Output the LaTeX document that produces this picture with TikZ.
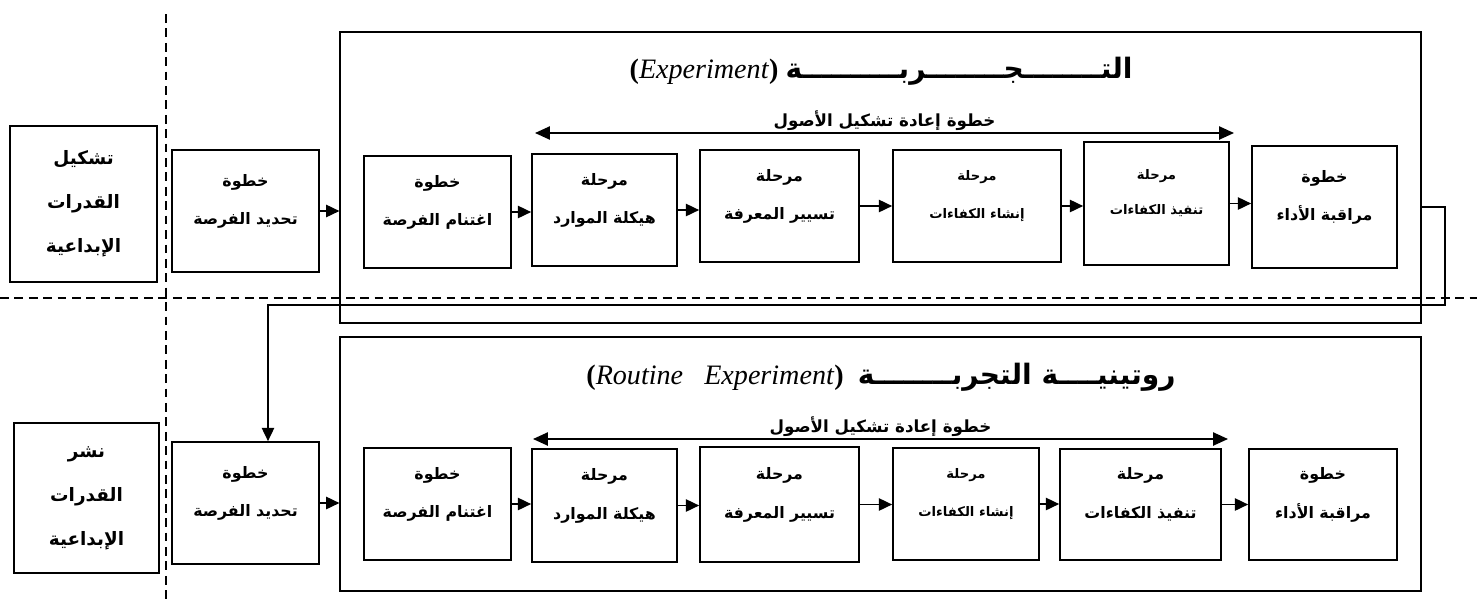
\documentclass[tikz,border=0pt]{standalone}
\usepackage{fontspec}
\setmainfont{Liberation Serif}
\newfontfamily\arabicfont[Script=Arabic]{DejaVu Sans}
\TeXXeTstate=1
\usetikzlibrary{arrows.meta}

\newcommand{\ar}[1]{{\arabicfont\bfseries\beginR #1\endR}}

\tikzset{
    stepbox/.style={draw, line width=1pt, align=center, inner sep=0pt,
        font=\fontsize{9}{22}\selectfont},
    sidebox/.style={draw, line width=1pt, align=center, inner sep=0pt,
        font=\fontsize{10.5}{25}\selectfont},
    framebox/.style={draw, line width=0.8pt, inner sep=0pt},
    sepline/.style={line width=0.8pt, dash pattern=on 5pt off 3.2pt},
    flow/.style={line width=0.8pt, -{Triangle[length=7.5pt,width=7pt]}},
    span/.style={line width=1pt, {Triangle[length=8.5pt,width=7.5pt]}-{Triangle[length=8.5pt,width=7.5pt]}},
    spanlabel/.style={above, inner sep=1pt, font=\fontsize{9.5}{11}\selectfont},
    titletext/.style={font=\fontsize{16}{18}\selectfont}
}

\begin{document}
\begin{tikzpicture}[x=0.02cm, y=-0.02cm]

        \useasboundingbox (0,0) rectangle (1477,609);

        %Separating dashed lines
        \draw[sepline, line width=1.5pt] (166,14) -- (166,604); %vertical
        \draw[sepline] (0,298) -- (1477,298); %horizontal

        %Side boxes
        \node[sidebox, minimum width=2.94cm, minimum height=3.12cm] (shakl) at (83.5,204) {\ar{تشكيل}\\\ar{القدرات}\\\ar{الإبداعية}};
        \node[sidebox, minimum width=2.90cm, minimum height=3.00cm] (nashr) at (86.5,498) {\ar{نشر}\\\ar{القدرات}\\\ar{الإبداعية}};

        %Frames of the two experiments
        \node[framebox, minimum width=21.62cm, minimum height=5.82cm] (frame1) at (880.5,177.5) {};
        \node[framebox, minimum width=21.62cm, minimum height=5.08cm] (frame2) at (880.5,464) {};

        %Titles
        \node[titletext] (title1) at (881,71) {\textbf{(}\textit{Experiment}\textbf{)} \ar{التــــــــجــــــــربــــــــــة}};
        \node[titletext] (title2) at (881,377) {\textbf{(}\textit{Routine\ \ \ Experiment}\textbf{)} \ \ar{روتينيــــة التجربــــــــة}};

        %Upper row (experiment)
        \node[stepbox, minimum width=2.94cm, minimum height=2.44cm] (tahdid1) at (245.5,211) {\ar{خطوة}\\\ar{تحديد الفرصة}\\[-9pt]\mbox{}};
        \node[stepbox, minimum width=2.94cm, minimum height=2.24cm] (ightinam1) at (437.5,212) {\ar{خطوة}\\\ar{اغتنام الفرصة}\\[-9pt]\mbox{}};
        \node[stepbox, minimum width=2.90cm, minimum height=2.24cm] (haykala1) at (604.5,210) {\ar{مرحلة}\\\ar{هيكلة الموارد}\\[-9pt]\mbox{}};
        \node[stepbox, minimum width=3.18cm, minimum height=2.24cm] (tasyir1) at (779.5,206) {\ar{مرحلة}\\\ar{تسيير المعرفة}\\[-9pt]\mbox{}};
        \node[stepbox, minimum width=3.36cm, minimum height=2.24cm, font=\fontsize{7.5}{22}\selectfont] (inshaa1) at (977,206) {\ar{مرحلة}\\\ar{إنشاء الكفاءات}\\[-9pt]\mbox{}};
        \node[stepbox, minimum width=2.90cm, minimum height=2.46cm, font=\fontsize{7.5}{20}\selectfont] (tanfidh1) at (1156.5,203.5) {\ar{مرحلة}\\\ar{تنفيذ الكفاءات}\\[-7pt]\mbox{}};
        \node[stepbox, minimum width=2.90cm, minimum height=2.44cm] (muraqaba1) at (1324.5,207) {\ar{خطوة}\\\ar{مراقبة الأداء}\\[-9pt]\mbox{}};

        %Lower row (routine experiment)
        \node[stepbox, minimum width=2.94cm, minimum height=2.44cm] (tahdid2) at (245.5,503) {\ar{خطوة}\\\ar{تحديد الفرصة}\\[-9pt]\mbox{}};
        \node[stepbox, minimum width=2.94cm, minimum height=2.24cm] (ightinam2) at (437.5,504) {\ar{خطوة}\\\ar{اغتنام الفرصة}\\[-9pt]\mbox{}};
        \node[stepbox, minimum width=2.90cm, minimum height=2.26cm] (haykala2) at (604.5,505.5) {\ar{مرحلة}\\\ar{هيكلة الموارد}\\[-9pt]\mbox{}};
        \node[stepbox, minimum width=3.18cm, minimum height=2.30cm] (tasyir2) at (779.5,504.5) {\ar{مرحلة}\\\ar{تسيير المعرفة}\\[-9pt]\mbox{}};
        \node[stepbox, minimum width=2.92cm, minimum height=2.24cm, font=\fontsize{7.5}{22}\selectfont] (inshaa2) at (966,504) {\ar{مرحلة}\\\ar{إنشاء الكفاءات}\\[-9pt]\mbox{}};
        \node[stepbox, minimum width=3.22cm, minimum height=2.22cm] (tanfidh2) at (1140.5,504.5) {\ar{مرحلة}\\\ar{تنفيذ الكفاءات}\\[-9pt]\mbox{}};
        \node[stepbox, minimum width=2.96cm, minimum height=2.22cm] (muraqaba2) at (1323,504.5) {\ar{خطوة}\\\ar{مراقبة الأداء}\\[-9pt]\mbox{}};

        %Arrows into the frames
        \draw[flow] (tahdid1.east) -- (tahdid1.east -| frame1.west);
        \draw[flow] (tahdid2.east) -- (tahdid2.east -| frame2.west);

        %Arrows along the rows
        \foreach \a/\b in {ightinam/haykala, haykala/tasyir, tasyir/inshaa, inshaa/tanfidh, tanfidh/muraqaba}{
            \draw[flow] (\a1.east) -- (\a1.east -| \b1.west);
            \draw[flow] (\a2.east) -- (\a2.east -| \b2.west);
        }

        %Asset reconfiguration step
        \coordinate (span1l) at (535,133);
        \coordinate (span1r) at (1234,133);
        \draw[span] (span1l) -- node[spanlabel] {\ar{خطوة إعادة تشكيل الأصول}} (span1r);
        \coordinate (span2l) at (533,439);
        \coordinate (span2r) at (1228,439);
        \draw[span] (span2l) -- node[spanlabel] {\ar{خطوة إعادة تشكيل الأصول}} (span2r);

        %Feedback from the experiment to the routine
        \coordinate (fbturn) at (1445,305);
        \draw[flow] (muraqaba1 -| frame1.east) -| (fbturn) -| ([xshift=0.45cm]tahdid2.north);

\end{tikzpicture}
\end{document}
